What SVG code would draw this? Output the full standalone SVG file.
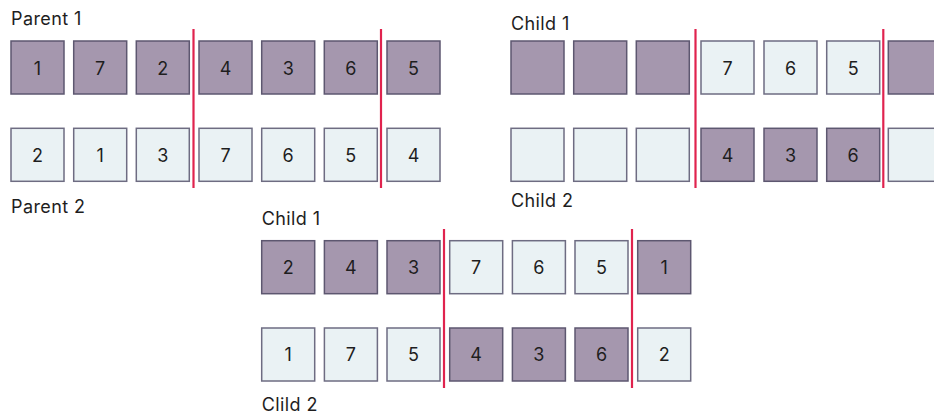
<svg xmlns="http://www.w3.org/2000/svg" width="934" height="417" viewBox="0 0 934 417">
<style>
text{font-family:Inter,"Liberation Sans",sans-serif;fill:#1e1e1e}
.lbl{font-size:18px;letter-spacing:0.4px}
.n{font-size:18px;text-anchor:middle;dominant-baseline:central}
.d{fill:#a597ae;stroke:#5d5770;stroke-width:1.5}
.l{fill:#eaf2f4;stroke:#6e6c82;stroke-width:1.5}
.cut{stroke:#e0234e;stroke-width:2.2}
</style>
<rect width="934" height="417" fill="#ffffff"/>
<!-- Parents -->
<g id="parents">
<text class="lbl" x="11" y="25">Parent 1</text>
<text class="lbl" x="11" y="213">Parent 2</text>
<g id="p1-1"><rect class="d" x="11" y="41" width="53" height="53"/><text class="n" x="37.5" y="68">1</text></g>
<g id="p1-2"><rect class="d" x="73.7" y="41" width="53" height="53"/><text class="n" x="100.2" y="68">7</text></g>
<g id="p1-3"><rect class="d" x="136.3" y="41" width="53" height="53"/><text class="n" x="162.8" y="68">2</text></g>
<g id="p1-4"><rect class="d" x="199" y="41" width="53" height="53"/><text class="n" x="225.5" y="68">4</text></g>
<g id="p1-5"><rect class="d" x="261.7" y="41" width="53" height="53"/><text class="n" x="288.2" y="68">3</text></g>
<g id="p1-6"><rect class="d" x="324.3" y="41" width="53" height="53"/><text class="n" x="350.8" y="68">6</text></g>
<g id="p1-7"><rect class="d" x="387" y="41" width="53" height="53"/><text class="n" x="413.5" y="68">5</text></g>
<g id="p2-1"><rect class="l" x="11" y="128.3" width="53" height="53"/><text class="n" x="37.5" y="155">2</text></g>
<g id="p2-2"><rect class="l" x="73.7" y="128.3" width="53" height="53"/><text class="n" x="100.2" y="155">1</text></g>
<g id="p2-3"><rect class="l" x="136.3" y="128.3" width="53" height="53"/><text class="n" x="162.8" y="155">3</text></g>
<g id="p2-4"><rect class="l" x="199" y="128.3" width="53" height="53"/><text class="n" x="225.5" y="155">7</text></g>
<g id="p2-5"><rect class="l" x="261.7" y="128.3" width="53" height="53"/><text class="n" x="288.2" y="155">6</text></g>
<g id="p2-6"><rect class="l" x="324.3" y="128.3" width="53" height="53"/><text class="n" x="350.8" y="155">5</text></g>
<g id="p2-7"><rect class="l" x="387" y="128.3" width="53" height="53"/><text class="n" x="413.5" y="155">4</text></g>
</g>
<!-- Children (empty) -->
<g id="children-a" transform="translate(500,0)">
<text class="lbl" x="11" y="30">Child 1</text>
<text class="lbl" x="11" y="207">Child 2</text>
<g id="c1-1"><rect class="d" x="11" y="41" width="53" height="53"/></g>
<g id="c1-2"><rect class="d" x="73.7" y="41" width="53" height="53"/></g>
<g id="c1-3"><rect class="d" x="136.3" y="41" width="53" height="53"/></g>
<g id="c1-4"><rect class="l" x="201" y="41" width="53" height="53"/><text class="n" x="227.5" y="68">7</text></g>
<g id="c1-5"><rect class="l" x="264" y="41" width="53" height="53"/><text class="n" x="290.5" y="68">6</text></g>
<g id="c1-6"><rect class="l" x="326.7" y="41" width="53" height="53"/><text class="n" x="353.2" y="68">5</text></g>
<g id="c1-7"><rect class="d" x="388.3" y="41" width="53" height="53"/></g>
<g id="c2-1"><rect class="l" x="11" y="128.3" width="53" height="53"/></g>
<g id="c2-2"><rect class="l" x="73.7" y="128.3" width="53" height="53"/></g>
<g id="c2-3"><rect class="l" x="136.3" y="128.3" width="53" height="53"/></g>
<g id="c2-4"><rect class="d" x="201" y="128.3" width="53" height="53"/><text class="n" x="227.5" y="155">4</text></g>
<g id="c2-5"><rect class="d" x="264" y="128.3" width="53" height="53"/><text class="n" x="290.5" y="155">3</text></g>
<g id="c2-6"><rect class="d" x="326.7" y="128.3" width="53" height="53"/><text class="n" x="353.2" y="155">6</text></g>
<g id="c2-7"><rect class="l" x="388.3" y="128.3" width="53" height="53"/></g>
</g>
<!-- Children (filled) -->
<g id="children-b" transform="translate(250.7,199.7)">
<text class="lbl" x="11" y="25.5">Child 1</text>
<text class="lbl" x="11" y="211.5">Clild 2</text>
<g id="d1-1"><rect class="d" x="11" y="41" width="53" height="53"/><text class="n" x="37.5" y="68">2</text></g>
<g id="d1-2"><rect class="d" x="73.7" y="41" width="53" height="53"/><text class="n" x="100.2" y="68">4</text></g>
<g id="d1-3"><rect class="d" x="136.3" y="41" width="53" height="53"/><text class="n" x="162.8" y="68">3</text></g>
<g id="d1-4"><rect class="l" x="199" y="41" width="53" height="53"/><text class="n" x="225.5" y="68">7</text></g>
<g id="d1-5"><rect class="l" x="261.7" y="41" width="53" height="53"/><text class="n" x="288.2" y="68">6</text></g>
<g id="d1-6"><rect class="l" x="324.3" y="41" width="53" height="53"/><text class="n" x="350.8" y="68">5</text></g>
<g id="d1-7"><rect class="d" x="387" y="41" width="53" height="53"/><text class="n" x="413.5" y="68">1</text></g>
<g id="d2-1"><rect class="l" x="11" y="128.3" width="53" height="53"/><text class="n" x="37.5" y="155">1</text></g>
<g id="d2-2"><rect class="l" x="73.7" y="128.3" width="53" height="53"/><text class="n" x="100.2" y="155">7</text></g>
<g id="d2-3"><rect class="l" x="136.3" y="128.3" width="53" height="53"/><text class="n" x="162.8" y="155">5</text></g>
<g id="d2-4"><rect class="d" x="199" y="128.3" width="53" height="53"/><text class="n" x="225.5" y="155">4</text></g>
<g id="d2-5"><rect class="d" x="261.7" y="128.3" width="53" height="53"/><text class="n" x="288.2" y="155">3</text></g>
<g id="d2-6"><rect class="d" x="324.3" y="128.3" width="53" height="53"/><text class="n" x="350.8" y="155">6</text></g>
<g id="d2-7"><rect class="l" x="387" y="128.3" width="53" height="53"/><text class="n" x="413.5" y="155">2</text></g>
</g>
<!-- Cut lines -->
<g id="connectors">
<line class="cut" x1="193.5" y1="29" x2="193.5" y2="188"/>
<line class="cut" x1="381" y1="29" x2="381" y2="188"/>
<line class="cut" x1="695.5" y1="29" x2="695.5" y2="188"/>
<line class="cut" x1="883.3" y1="29" x2="883.3" y2="188"/>
<line class="cut" x1="444" y1="229" x2="444" y2="388"/>
<line class="cut" x1="632" y1="229" x2="632" y2="388"/>
</g>
</svg>
